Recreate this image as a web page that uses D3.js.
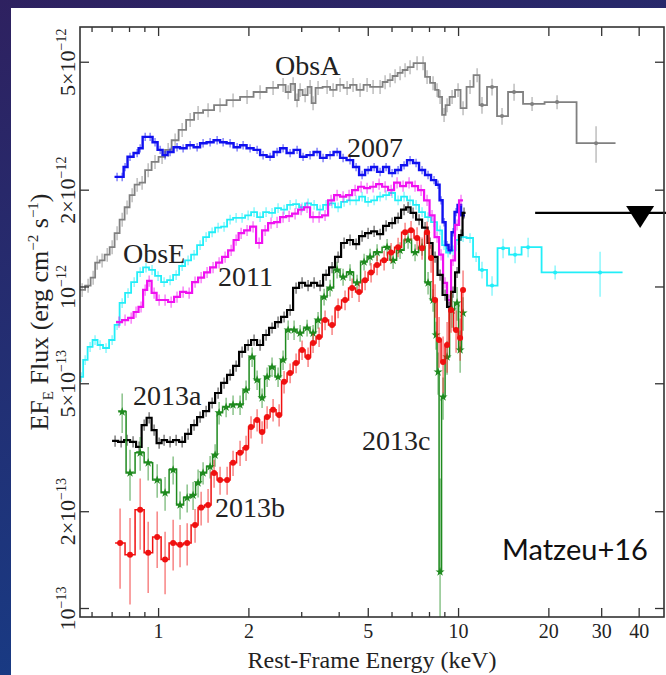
<!DOCTYPE html>
<html lang="en">
<head>
<meta charset="UTF-8">
<title>Matzeu+16 spectra</title>
<script src="https://d3js.org/d3.v7.min.js"></script>
<style>
    body { margin: 0; background: #1e2f70; }
    svg { display: block; }
</style>
</head>
<body>
<div id="chart"></div>
<script>
// energies in keV, fluxes in units of 1e-12 erg cm^-2 s^-1

var obsA_E = [0.556, 0.582, 0.605, 0.624, 0.648, 0.674, 0.700, 0.727, 0.756, 0.785, 0.816, 0.848, 0.881, 0.923, 0.973, 1.027, 1.076, 1.135, 1.198, 1.274, 1.354, 1.462, 1.603, 1.771, 1.972, 2.179, 2.408, 2.600, 2.703, 2.808, 2.895, 2.963, 3.079, 3.199, 3.273, 3.401, 3.645, 3.817, 4.027, 4.250, 4.449, 4.695, 4.955, 5.188, 5.475, 5.689, 5.911, 6.142, 6.383, 6.632, 6.891, 7.272, 7.614, 7.852, 8.222, 8.478, 8.676, 8.947, 9.156, 9.514, 9.961, 10.35, 10.92, 11.53];
var obsA_F = [0.979, 1.01, 1.07, 1.19, 1.21, 1.26, 1.33, 1.47, 1.62, 1.77, 1.93, 2.08, 2.11, 2.31, 2.45, 2.54, 2.67, 2.86, 3.08, 3.31, 3.48, 3.55, 3.68, 3.81, 3.90, 4.04, 4.16, 4.25, 4.04, 4.28, 3.81, 4.10, 3.95, 4.19, 3.73, 4.16, 4.19, 4.10, 4.25, 4.16, 4.25, 4.10, 4.25, 4.19, 4.19, 4.34, 4.40, 4.53, 4.63, 4.73, 4.83, 4.97, 4.97, 4.50, 4.31, 4.10, 3.90, 3.43, 3.68, 3.90, 4.10, 3.60, 4.19, 4.56];
var obsA_binE = [11.97, 12.93, 13.96, 15.31, 17.58, 21.30, 28.73];
var obsA_binF = [3.68, 4.19, 3.40, 4.04, 3.71, 3.76, 2.80];
var obsA_binErr = [0.06, 0.06, 0.06, 0.06, 0.05, 0.05, 0.13];

var y2007_E = [0.727, 0.756, 0.773, 0.803, 0.848, 0.868, 0.902, 0.937, 0.973, 1.012, 1.051, 1.092, 1.152, 1.207, 1.274, 1.344, 1.407, 1.485, 1.567, 1.641, 1.731, 1.827, 1.913, 2.018, 2.130, 2.230, 2.353, 2.483, 2.600, 2.744, 2.895, 3.031, 3.199, 3.375, 3.534, 3.730, 3.936, 4.121, 4.347, 4.554, 4.768, 4.993, 5.229, 5.475, 5.733, 6.003, 6.286, 6.581, 6.891, 7.216, 7.556, 7.912, 8.284, 8.545, 8.744, 8.947, 9.156, 9.369, 9.587, 9.810, 10.04, 10.35];
var y2007_F = [2.20, 2.20, 2.36, 2.54, 2.61, 2.70, 2.93, 2.93, 2.82, 2.67, 2.57, 2.63, 2.72, 2.70, 2.76, 2.72, 2.80, 2.82, 2.86, 2.82, 2.80, 2.72, 2.76, 2.70, 2.67, 2.57, 2.54, 2.63, 2.70, 2.61, 2.67, 2.54, 2.57, 2.63, 2.52, 2.57, 2.63, 2.52, 2.48, 2.36, 2.23, 2.31, 2.36, 2.28, 2.36, 2.26, 2.31, 2.39, 2.48, 2.43, 2.31, 2.23, 2.15, 2.08, 1.86, 1.59, 1.35, 1.30, 1.48, 1.71, 1.80, 1.67];

var obsE_E = [0.552, 0.569, 0.591, 0.614, 0.638, 0.668, 0.700, 0.727, 0.756, 0.791, 0.829, 0.868, 0.908, 0.951, 0.996, 1.043, 1.092, 1.144, 1.198, 1.254, 1.313, 1.375, 1.440, 1.508, 1.579, 1.653, 1.731, 1.813, 1.898, 1.988, 2.081, 2.179, 2.282, 2.389, 2.502, 2.620, 2.744, 2.873, 3.008, 3.150, 3.299, 3.454, 3.617, 3.787, 3.966, 4.153, 4.347, 4.554, 4.768, 4.993, 5.229, 5.475, 5.733, 6.003, 6.286, 6.581, 6.891, 7.216, 7.556, 7.912, 8.284, 8.676, 8.947, 9.226, 9.587, 9.961, 10.35, 10.92, 11.44];
var obsE_F = [0.525, 0.593, 0.651, 0.684, 0.660, 0.646, 0.684, 0.762, 0.892, 0.958, 1.036, 1.113, 1.15, 1.13, 1.082, 1.036, 1.05, 1.09, 1.162, 1.21, 1.26, 1.35, 1.43, 1.48, 1.53, 1.54, 1.62, 1.64, 1.64, 1.67, 1.71, 1.65, 1.71, 1.70, 1.76, 1.74, 1.80, 1.81, 1.77, 1.82, 1.80, 1.74, 1.80, 1.82, 1.77, 1.84, 1.86, 1.86, 1.91, 1.84, 1.86, 1.91, 1.93, 1.96, 1.86, 1.91, 1.86, 1.80, 1.71, 1.65, 1.59, 1.50, 1.35, 1.28, 1.30, 1.40, 1.43, 1.42, 1.24];
var obsE_binE = [11.97, 12.93, 14.07, 15.43, 17.05, 20.98, 29.63];
var obsE_binF = [1.13, 1.01, 1.32, 1.26, 1.33, 1.11, 1.11];
var obsE_binErr = [0.06, 0.07, 0.07, 0.06, 0.07, 0.05, 0.16];

var y2011_E = [0.738, 0.773, 0.810, 0.841, 0.874, 0.902, 0.930, 0.966, 1.004, 1.051, 1.101, 1.152, 1.207, 1.264, 1.323, 1.386, 1.451, 1.519, 1.591, 1.666, 1.745, 1.813, 1.884, 1.972, 2.065, 2.163, 2.265, 2.371, 2.483, 2.600, 2.723, 2.851, 2.985, 3.126, 3.273, 3.428, 3.589, 3.758, 3.936, 4.121, 4.315, 4.519, 4.732, 4.955, 5.188, 5.433, 5.689, 5.957, 6.237, 6.531, 6.839, 7.161, 7.499, 7.852, 8.159, 8.478, 8.744, 9.016, 9.297, 9.587, 9.886, 10.19];
var y2011_F = [0.778, 0.789, 0.801, 0.836, 0.867, 0.979, 1.044, 0.958, 0.911, 0.911, 0.898, 0.931, 0.965, 0.958, 1.036, 1.07, 1.11, 1.15, 1.19, 1.24, 1.30, 1.40, 1.47, 1.50, 1.54, 1.37, 1.50, 1.58, 1.59, 1.65, 1.66, 1.69, 1.74, 1.77, 1.65, 1.65, 1.67, 1.86, 1.93, 1.91, 1.93, 2.00, 2.05, 2.03, 2.05, 2.09, 2.05, 2.00, 2.11, 2.06, 2.11, 2.06, 2.00, 1.86, 1.67, 1.43, 1.26, 1.03, 0.911, 1.21, 1.56, 1.86];

var y2013a_E = [0.716, 0.750, 0.785, 0.822, 0.861, 0.895, 0.930, 0.966, 1.004, 1.043, 1.092, 1.144, 1.198, 1.254, 1.313, 1.375, 1.440, 1.508, 1.579, 1.653, 1.731, 1.813, 1.898, 1.988, 2.081, 2.179, 2.282, 2.389, 2.502, 2.620, 2.744, 2.873, 3.008, 3.150, 3.299, 3.454, 3.617, 3.787, 3.966, 4.153, 4.347, 4.554, 4.768, 4.993, 5.229, 5.475, 5.733, 6.003, 6.286, 6.581, 6.787, 7.052, 7.385, 7.732, 8.035, 8.349, 8.676, 9.016, 9.297, 9.587, 9.886, 10.19, 10.43];
var y2013a_F = [0.332, 0.330, 0.334, 0.330, 0.318, 0.372, 0.392, 0.359, 0.327, 0.334, 0.330, 0.334, 0.330, 0.349, 0.372, 0.394, 0.411, 0.436, 0.468, 0.503, 0.533, 0.568, 0.628, 0.660, 0.684, 0.660, 0.709, 0.746, 0.778, 0.807, 0.848, 0.993, 1.03, 1.01, 1.03, 1.01, 1.09, 1.15, 1.24, 1.37, 1.40, 1.36, 1.44, 1.47, 1.49, 1.46, 1.55, 1.58, 1.64, 1.74, 1.77, 1.70, 1.62, 1.53, 1.37, 1.24, 1.09, 0.944, 0.867, 0.965, 1.11, 1.45, 1.70];

var y2013b_E = [0.744, 0.803, 0.868, 0.923, 0.989, 1.051, 1.118, 1.179, 1.245, 1.323, 1.386, 1.462, 1.531, 1.603, 1.692, 1.771, 1.869, 1.957, 2.033, 2.130, 2.213, 2.300, 2.408, 2.522, 2.620, 2.744, 2.873, 3.008, 3.150, 3.273, 3.428, 3.589, 3.787, 3.966, 4.184, 4.416, 4.659, 4.879, 5.109, 5.350, 5.646, 5.957, 6.286, 6.632, 6.944, 7.272, 7.556, 7.852, 8.097, 8.349, 8.610, 8.878, 9.156, 9.441, 9.810, 10.12, 10.35];
var y2013b_F = [0.160, 0.147, 0.203, 0.149, 0.167, 0.142, 0.160, 0.158, 0.160, 0.182, 0.206, 0.210, 0.264, 0.251, 0.251, 0.284, 0.305, 0.316, 0.367, 0.386, 0.354, 0.394, 0.415, 0.400, 0.507, 0.540, 0.580, 0.637, 0.606, 0.670, 0.699, 0.789, 0.762, 0.860, 0.911, 0.993, 0.965, 1.05, 1.11, 1.17, 1.21, 1.28, 1.33, 1.48, 1.50, 1.42, 1.32, 1.48, 1.23, 0.911, 0.684, 0.584, 0.660, 0.848, 0.735, 0.694, 0.979];
var y2013b_err = [0.28, 0.30, 0.25, 0.25, 0.20, 0.22, 0.18, 0.15, 0.15, 0.12, 0.12, 0.12, 0.10, 0.10, 0.10, 0.09, 0.09, 0.09, 0.08, 0.08, 0.08, 0.08, 0.08, 0.08, 0.08, 0.07, 0.07, 0.07, 0.07, 0.07, 0.07, 0.07, 0.07, 0.07, 0.07, 0.07, 0.07, 0.07, 0.07, 0.07, 0.07, 0.07, 0.07, 0.07, 0.07, 0.08, 0.08, 0.08, 0.10, 0.12, 0.18, 0.20, 0.18, 0.15, 0.15, 0.15, 0.15];

var y2013c_E = [0.756, 0.803, 0.868, 0.923, 0.989, 1.051, 1.118, 1.179, 1.245, 1.303, 1.354, 1.407, 1.485, 1.543, 1.591, 1.679, 1.771, 1.869, 1.957, 2.050, 2.130, 2.213, 2.300, 2.389, 2.502, 2.600, 2.703, 2.829, 2.963, 3.126, 3.273, 3.401, 3.562, 3.730, 3.936, 4.121, 4.347, 4.588, 4.842, 5.070, 5.350, 5.777, 6.049, 6.383, 6.787, 7.161, 7.556, 7.912, 8.222, 8.414, 8.545, 8.676, 8.878, 9.156, 9.514, 9.886, 10.12, 10.35];
var y2013c_F = [0.409, 0.264, 0.305, 0.284, 0.251, 0.229, 0.270, 0.210, 0.221, 0.225, 0.246, 0.264, 0.276, 0.300, 0.406, 0.423, 0.430, 0.430, 0.478, 0.606, 0.514, 0.452, 0.525, 0.564, 0.525, 0.593, 0.735, 0.735, 0.719, 0.746, 0.719, 0.789, 0.931, 0.993, 1.13, 1.074, 1.11, 1.03, 1.196, 1.24, 1.28, 1.33, 1.21, 1.30, 1.40, 1.28, 1.33, 1.03, 0.911, 0.709, 0.544, 0.130, 0.455, 0.606, 0.848, 0.892, 0.637, 0.830];
var y2013c_err = [0.14, 0.18, 0.12, 0.12, 0.12, 0.12, 0.10, 0.10, 0.10, 0.10, 0.10, 0.08, 0.08, 0.08, 0.08, 0.07, 0.07, 0.07, 0.07, 0.07, 0.07, 0.07, 0.07, 0.07, 0.07, 0.07, 0.07, 0.07, 0.06, 0.06, 0.06, 0.06, 0.06, 0.06, 0.06, 0.06, 0.06, 0.06, 0.06, 0.06, 0.06, 0.06, 0.06, 0.06, 0.06, 0.06, 0.06, 0.08, 0.08, 0.10, 0.15, 0.95, 0.15, 0.12, 0.12, 0.12, 0.15, 0.12];

// hard X-ray upper limit
var upperLimit = { E0: 18.0, E1: 52, Etri: 40.3, F: 1.70 };

var seriesLabels = [
    { text: "ObsA", E: 2.445, F: 4.56 },
    { text: "2007", E: 4.25, F: 2.54 },
    { text: "ObsE", E: 0.761, F: 1.19 },
    { text: "2011", E: 1.579, F: 1.01 },
    { text: "2013a", E: 0.822, F: 0.430 },
    { text: "2013b", E: 1.543, F: 0.193 },
    { text: "2013c", E: 4.768, F: 0.311 }
];

var xMajor = [1, 2, 5, 10, 20, 30, 40];
var xMinor = [0.6, 0.7, 0.8, 0.9, 3, 4, 6, 7, 8, 9];
var yTicks = [0.1, 0.2, 0.5, 1, 2, 5];
var yTickMant = ["", "2\u00d7", "5\u00d7", "", "2\u00d7", "5\u00d7"];
var yTickExp = ["\u221213", "\u221213", "\u221213", "\u221212", "\u221212", "\u221212"];

var width = 666, height = 675;
var plot = { left: 80, right: 664, top: 27, bottom: 617 };

var svg = d3.select("#chart").append("svg")
    .attr("width", width)
    .attr("height", height);

var defs = svg.append("defs");
var grad = defs.append("linearGradient").attr("id", "bg")
    .attr("x1", 0).attr("y1", 0).attr("x2", 0.3).attr("y2", 1);
grad.append("stop").attr("offset", "0%").attr("stop-color", "#2e2160");
grad.append("stop").attr("offset", "100%").attr("stop-color", "#173c86");

defs.append("clipPath").attr("id", "plotclip")
    .append("rect")
    .attr("x", plot.left).attr("y", plot.top)
    .attr("width", plot.right - plot.left).attr("height", plot.bottom - plot.top);

svg.append("rect").attr("width", width).attr("height", height).attr("fill", "url(#bg)");
svg.append("rect").attr("x", 11).attr("y", 8).attr("width", width).attr("height", height).attr("fill", "#fff");

var xScale = d3.scaleLog().domain([0.547, 48.4]).range([plot.left, plot.right]);
var yScale = d3.scaleLog().domain([0.0941, 6.435]).range([plot.bottom, plot.top]);

function constErr(arr, e) { return arr.map(function() { return e; }); }

var series = [
    { E: obsA_E.concat(obsA_binE), F: obsA_F.concat(obsA_binF), err: constErr(obsA_E, 0.05).concat(obsA_binErr),
      color: "#808080", lw: 1.8, marker: "dotBin", nDense: obsA_E.length },
    { E: obsE_E.concat(obsE_binE), F: obsE_F.concat(obsE_binF), err: constErr(obsE_E, 0.035).concat(obsE_binErr),
      color: "#22eef8", lw: 1.8, marker: "dotBin", nDense: obsE_E.length },
    { E: y2007_E, F: y2007_F, err: constErr(y2007_E, 0.03), color: "#1010f0", lw: 2.4 },
    { E: y2011_E, F: y2011_F, err: constErr(y2011_E, 0.04), color: "#f010f0", lw: 2.2 },
    { E: y2013a_E, F: y2013a_F, err: constErr(y2013a_E, 0.04), color: "#000000", lw: 2.2 },
    { E: y2013c_E, F: y2013c_F, err: y2013c_err, color: "#1e8a1e", lw: 1.5, marker: "star" },
    { E: y2013b_E, F: y2013b_F, err: y2013b_err, color: "#f01010", lw: 1.5, marker: "circle" }
];

var stepLine = d3.line()
    .x(function(d) { return xScale(d[0]); })
    .y(function(d) { return yScale(d[1]); })
    .curve(d3.curveStepAfter);

var dataLayer = svg.append("g").attr("clip-path", "url(#plotclip)");

series.forEach(function(s) {
    var n = s.E.length;
    var mids = [];
    for (var i = 1; i < n; i++) mids.push(Math.sqrt(s.E[i - 1] * s.E[i]));
    var lo = [s.E[0] * s.E[0] / mids[0]].concat(mids);
    var hi = mids.concat([s.E[n - 1] * s.E[n - 1] / mids[n - 2]]);
    var pts = s.E.map(function(e, i) { return [lo[i], s.F[i]]; });
    pts.push([hi[n - 1], s.F[n - 1]]);

    var g = dataLayer.append("g");

    // error bars
    g.selectAll(".err")
        .data(s.E)
        .enter().append("line")
        .attr("x1", function(d) { return xScale(d); })
        .attr("x2", function(d) { return xScale(d); })
        .attr("y1", function(d, i) { return yScale(Math.max(s.F[i] * (1 - s.err[i]), 0.01)); })
        .attr("y2", function(d, i) { return yScale(s.F[i] * (1 + s.err[i])); })
        .attr("stroke", s.color)
        .attr("stroke-opacity", 0.6)
        .attr("stroke-width", 1.3);

    g.append("path")
        .attr("d", stepLine(pts))
        .attr("fill", "none")
        .attr("stroke", s.color)
        .attr("stroke-width", s.lw)
        .attr("stroke-linejoin", "miter");

    if (s.marker === "circle") {
        g.selectAll(".mk")
            .data(s.E)
            .enter().append("circle")
            .attr("cx", function(d) { return xScale(d); })
            .attr("cy", function(d, i) { return yScale(s.F[i]); })
            .attr("r", 3)
            .attr("fill", s.color);
    } else if (s.marker === "star") {
        g.selectAll(".mk")
            .data(s.E)
            .enter().append("path")
            .attr("transform", function(d, i) { return "translate(" + xScale(d) + "," + yScale(s.F[i]) + ")"; })
            .attr("d", d3.symbol().type(d3.symbolStar).size(26))
            .attr("fill", s.color);
    } else if (s.marker === "dotBin") {
        g.selectAll(".mk")
            .data(s.E.slice(s.nDense))
            .enter().append("circle")
            .attr("cx", function(d) { return xScale(d); })
            .attr("cy", function(d, i) { return yScale(s.F[s.nDense + i]); })
            .attr("r", 2)
            .attr("fill", s.color);
    }
});

// upper limit bar + triangle (not clipped, runs past the right axis)
svg.append("line")
    .attr("x1", xScale(upperLimit.E0)).attr("x2", xScale(upperLimit.E1))
    .attr("y1", yScale(upperLimit.F)).attr("y2", yScale(upperLimit.F))
    .attr("stroke", "#000").attr("stroke-width", 2.2);
var tx = xScale(upperLimit.Etri), ty = yScale(upperLimit.F);
svg.append("path")
    .attr("d", "M" + (tx - 14) + "," + (ty - 7) + "L" + (tx + 14) + "," + (ty - 7) + "L" + tx + "," + (ty + 15) + "Z")
    .attr("fill", "#000");

// frame
svg.append("rect")
    .attr("x", plot.left).attr("y", plot.top)
    .attr("width", plot.right - plot.left).attr("height", plot.bottom - plot.top)
    .attr("fill", "none").attr("stroke", "#333").attr("stroke-width", 1.6);

var ticks = svg.append("g").attr("stroke", "#333").attr("stroke-width", 1.3);
function xTick(v, len) {
    ticks.append("line").attr("x1", xScale(v)).attr("x2", xScale(v))
        .attr("y1", plot.bottom).attr("y2", plot.bottom - len);
    ticks.append("line").attr("x1", xScale(v)).attr("x2", xScale(v))
        .attr("y1", plot.top).attr("y2", plot.top + len);
}
xMajor.forEach(function(v) { xTick(v, 9); });
xMinor.forEach(function(v) { xTick(v, 5); });
yTicks.forEach(function(v) {
    ticks.append("line").attr("x1", plot.left).attr("x2", plot.left + 9)
        .attr("y1", yScale(v)).attr("y2", yScale(v));
    ticks.append("line").attr("x1", plot.right).attr("x2", plot.right - 9)
        .attr("y1", yScale(v)).attr("y2", yScale(v));
});

var serif = "'Liberation Serif', 'Times New Roman', serif";

svg.selectAll(".xlab")
    .data(xMajor)
    .enter().append("text")
    .attr("x", function(d) { return xScale(d); })
    .attr("y", 638)
    .attr("text-anchor", "middle")
    .style("font-family", serif)
    .style("font-size", "20px")
    .attr("fill", "#222")
    .text(function(d) { return d; });

var ylab = svg.selectAll(".ylab")
    .data(yTicks)
    .enter().append("text")
    .attr("transform", function(d) { return "translate(75," + yScale(d) + ") rotate(-90)"; })
    .attr("text-anchor", "middle")
    .style("font-family", serif)
    .style("font-size", "22px")
    .attr("fill", "#222");
ylab.append("tspan").text(function(d, i) { return yTickMant[i] + "10"; });
ylab.append("tspan").attr("dy", -9).style("font-size", "14px").text(function(d, i) { return yTickExp[i]; });

svg.append("text")
    .attr("x", (plot.left + plot.right) / 2)
    .attr("y", 668)
    .attr("text-anchor", "middle")
    .style("font-family", serif)
    .style("font-size", "24px")
    .attr("fill", "#222")
    .text("Rest-Frame Energy (keV)");

var yTitle = svg.append("text")
    .attr("transform", "translate(48,312) rotate(-90)")
    .attr("text-anchor", "middle")
    .style("font-family", serif)
    .style("font-size", "26px")
    .attr("fill", "#222");
yTitle.append("tspan").text("EF");
yTitle.append("tspan").attr("dy", 5).style("font-size", "15px").text("E");
yTitle.append("tspan").attr("dy", -5).text(" Flux (erg cm");
yTitle.append("tspan").attr("dy", -10).style("font-size", "15px").text("\u22122");
yTitle.append("tspan").attr("dy", 10).text(" s");
yTitle.append("tspan").attr("dy", -10).style("font-size", "15px").text("\u22121");
yTitle.append("tspan").attr("dy", 10).text(")");

svg.selectAll(".slab")
    .data(seriesLabels)
    .enter().append("text")
    .attr("x", function(d) { return xScale(d.E); })
    .attr("y", function(d) { return yScale(d.F); })
    .style("font-family", serif)
    .style("font-size", "28px")
    .attr("fill", "#222")
    .text(function(d) { return d.text; });

svg.append("text")
    .attr("x", 502)
    .attr("y", 560)
    .style("font-family", "Lato, 'Open Sans', sans-serif")
    .style("font-size", "29px")
    .attr("fill", "#111")
    .text("Matzeu+16");
</script>
</body>
</html>
